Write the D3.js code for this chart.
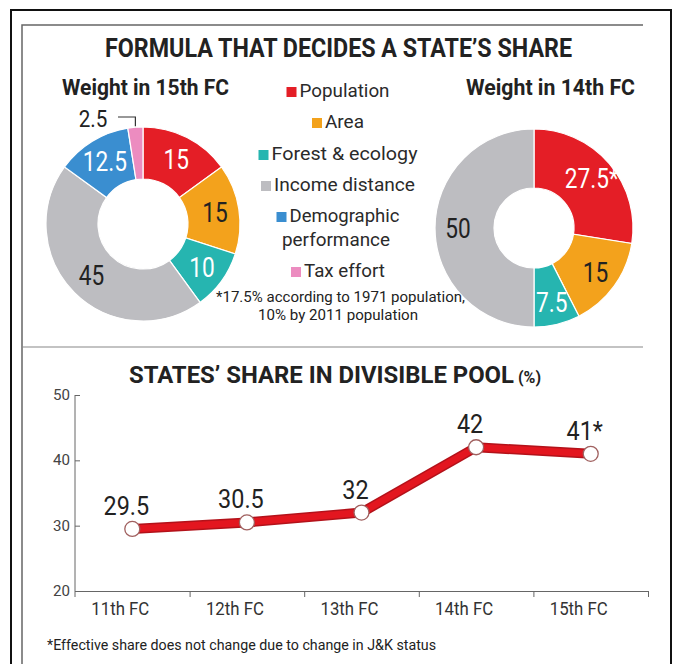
<!DOCTYPE html>
<html><head><meta charset="utf-8">
<script src="https://cdn.jsdelivr.net/npm/d3@7"></script>
<style>
body{margin:0;background:#fff}
svg{display:block}
text{font-family:Roboto,"Liberation Sans",sans-serif;fill:#222}
</style>
</head><body>
<svg id="c" width="676" height="664"></svg>
<script>
// ---------- DATA ----------
const categories = ["Population","Area","Forest & ecology","Income distance","Demographic performance","Tax effort"];
const legendLines = [["Population"],["Area"],["Forest & ecology"],["Income distance"],["Demographic","performance"],["Tax effort"]];
const weights15 = [15,15,10,45,12.5,2.5];
const labels15 = ["15","15","10","45","12.5","2.5"];
const categories14 = ["Population","Area","Forest & ecology","Income distance"];
const weights14 = [27.5,15,7.5,50];
const labels14 = ["27.5*","15","7.5","50"];
const commissions = ["11th FC","12th FC","13th FC","14th FC","15th FC"];
const share = [29.5,30.5,32,42,41];
const shareLabels = ["29.5","30.5","32","42","41*"];
const yTicks = [20,30,40,50];

// ---------- STYLE ----------
const colors = {"Population":"#e41e26","Area":"#f3a21c","Forest & ecology":"#26b5b0","Income distance":"#bdbdc1","Demographic performance":"#3a8ed0","Tax effort":"#ec8cc0"};
const darkLabel = {"Area":true,"Income distance":true};

const svg = d3.select("#c");

function fit(sel, w){ sel.attr("textLength", w).attr("lengthAdjust","spacingAndGlyphs"); return sel; }

// frame
svg.append("rect").attr("x",11).attr("y",10).attr("width",660).attr("height",700)
  .attr("fill","none").attr("stroke","#111").attr("stroke-width",2);
svg.append("path").attr("d","M22,664V25H643").attr("fill","none").attr("stroke","#666").attr("stroke-width",1.5);
svg.append("line").attr("x1",22).attr("x2",643).attr("y1",347).attr("y2",347).attr("stroke","#888").attr("stroke-width",1.2);

// titles
fit(svg.append("text").attr("x",338.5).attr("y",57).attr("text-anchor","middle")
  .attr("font-size",25).attr("font-weight",700).text("FORMULA THAT DECIDES A STATE\u2019S SHARE"),467);
fit(svg.append("text").attr("x",145.5).attr("y",95).attr("text-anchor","middle")
  .attr("font-size",22).attr("font-weight",700).text("Weight in 15th FC"),167);
fit(svg.append("text").attr("x",550.5).attr("y",95).attr("text-anchor","middle")
  .attr("font-size",22).attr("font-weight",700).text("Weight in 14th FC"),169);

// ---------- donuts ----------
function donut(cx, cy, rIn, rOut, cats, vals, labels, labelR, skipLast){
  const g = svg.append("g").attr("transform",`translate(${cx},${cy})`);
  const pie = d3.pie().sort(null).value(d=>d.v);
  const data = pie(cats.map((c,i)=>({c, v:vals[i], l:labels[i]})));
  const arc = d3.arc().innerRadius(rIn).outerRadius(rOut);
  g.selectAll("path").data(data).join("path")
    .attr("d",arc).attr("fill",d=>colors[d.data.c])
    .attr("stroke","#fff").attr("stroke-width",1.2);
  const la = d3.arc().innerRadius(labelR).outerRadius(labelR);
  g.selectAll("text.v").data(skipLast ? data.slice(0,-1) : data).join("text").attr("class","v")
    .attr("transform",d=>`translate(${la.centroid(d)}) scale(0.84,1)`)
    .attr("text-anchor","middle").attr("dy","0.36em")
    .attr("font-size",27)
    .style("fill",d=>darkLabel[d.data.c] ? "#222" : "#fff")
    .text(d=>d.data.l);
  return {g, data, arc};
}
const d15 = donut(143,224,45,97,categories,weights15,labels15,73,true);
const d14 = donut(534,228,40,99,categories14,weights14,labels14,76,false);

// tax effort outside label
const last = d15.data[d15.data.length-1];
const mid = (last.startAngle+last.endAngle)/2;
const px = 143 + Math.sin(mid)*97, py = 224 - Math.cos(mid)*97;
svg.append("path").attr("d",`M118,117H${px}V${py-1}`).attr("fill","none").attr("stroke","#333").attr("stroke-width",1.2);
svg.append("text").attr("transform","translate(93,127) scale(0.86,1)").attr("text-anchor","middle").attr("font-size",24).text(labels15[5]);

// ---------- legend ----------
const legendY = [97,128,160,191,222,277];
const legendW = {"Population":90,"Area":39,"Forest & ecology":146,"Income distance":141,"Demographic":110,"performance":108,"Tax effort":81};
const lcx = 338;
categories.forEach((c,i)=>{
  const lines = legendLines[i];
  const w0 = legendW[lines[0]];
  const total = 10 + 3 + w0;
  const x0 = lcx - total/2;
  const y0 = legendY[i];
  svg.append("rect").attr("x",x0).attr("y",y0-10).attr("width",10).attr("height",10).attr("fill",colors[c]);
  fit(svg.append("text").attr("x",x0+13).attr("y",y0).attr("font-size",19).style("fill","#2a2a2a").text(lines[0]), w0);
  if(lines[1]){
    fit(svg.append("text").attr("x",lcx - legendW[lines[1]]/2 - 2).attr("y",y0+24).attr("font-size",19).style("fill","#2a2a2a").text(lines[1]), legendW[lines[1]]);
  }
});
fit(svg.append("text").attr("x",340.5).attr("y",302).attr("text-anchor","middle").attr("font-size",14).text("*17.5% according to 1971 population,"),249);
fit(svg.append("text").attr("x",338).attr("y",320).attr("text-anchor","middle").attr("font-size",14).text("10% by 2011 population"),160);

// ---------- line chart ----------
const lt = svg.append("text").attr("x",129).attr("y",383).attr("font-size",23).attr("font-weight",700);
lt.append("tspan").text("STATES\u2019 SHARE IN DIVISIBLE POOL").attr("textLength",385).attr("lengthAdjust","spacingAndGlyphs");
lt.append("tspan").attr("font-size",16).attr("dx",4).text("(%)");

const x = d3.scaleBand().domain(commissions).range([75,648]);
const y = d3.scaleLinear().domain([20,50]).range([591,395]);
const xb = d3.scaleLinear().domain([0,commissions.length]).range([75,648]);

const ya = svg.append("g").attr("transform","translate(75,0)")
  .call(d3.axisLeft(y).tickValues(yTicks).tickSize(-5).tickSizeOuter(0).tickPadding(5));
ya.select(".domain").attr("stroke","#666").attr("d","M0,395V597");
ya.selectAll(".tick line").attr("stroke","#666");
ya.selectAll("text").attr("font-size",14).attr("font-family","Roboto").style("fill","#444").attr("textLength",17).attr("lengthAdjust","spacingAndGlyphs");

const xa = svg.append("g").attr("transform","translate(0,591)")
  .call(d3.axisBottom(xb).tickValues(d3.range(1,commissions.length+1)).tickFormat("").tickSize(6).tickSizeOuter(0));
xa.select(".domain").attr("stroke","#666");
xa.selectAll(".tick line").attr("stroke","#666");
const xl = svg.append("g").attr("transform","translate(0,591)")
  .call(d3.axisBottom(x).tickSize(0).tickPadding(11));
xl.select(".domain").remove();
xl.selectAll("text").attr("font-size",18).attr("font-family","Roboto").style("fill","#333")
  .attr("dx",-12).attr("textLength",58).attr("lengthAdjust","spacingAndGlyphs");

const pts = commissions.map((c,i)=>[x(c)+x.bandwidth()/2, y(share[i])]);
const line = d3.line();
svg.append("path").attr("d",line(pts)).attr("fill","none").attr("stroke","#b3121a").attr("stroke-width",10).attr("stroke-linejoin","round");
svg.append("path").attr("d",line(pts)).attr("fill","none").attr("stroke","#e3161f").attr("stroke-width",7).attr("stroke-linejoin","round");
svg.selectAll("circle.p").data(pts).join("circle").attr("class","p")
  .attr("cx",d=>d[0]).attr("cy",d=>d[1]).attr("r",7.5)
  .attr("fill","#fff").attr("stroke","#a0605f").attr("stroke-width",1.3);
svg.selectAll("text.sv").data(commissions).join("text").attr("class","sv")
  .attr("transform",(c,i)=>`translate(${x(c)+x.bandwidth()/2-6},${y(share[i])-14}) scale(0.9,1)`)
  .attr("text-anchor","middle").attr("font-size",26).style("fill","#222")
  .text((c,i)=>shareLabels[i]);

fit(svg.append("text").attr("x",47).attr("y",650).attr("font-size",15).style("fill","#222")
  .text("*Effective share does not change due to change in J&K status"),389);
</script>
</body></html>
